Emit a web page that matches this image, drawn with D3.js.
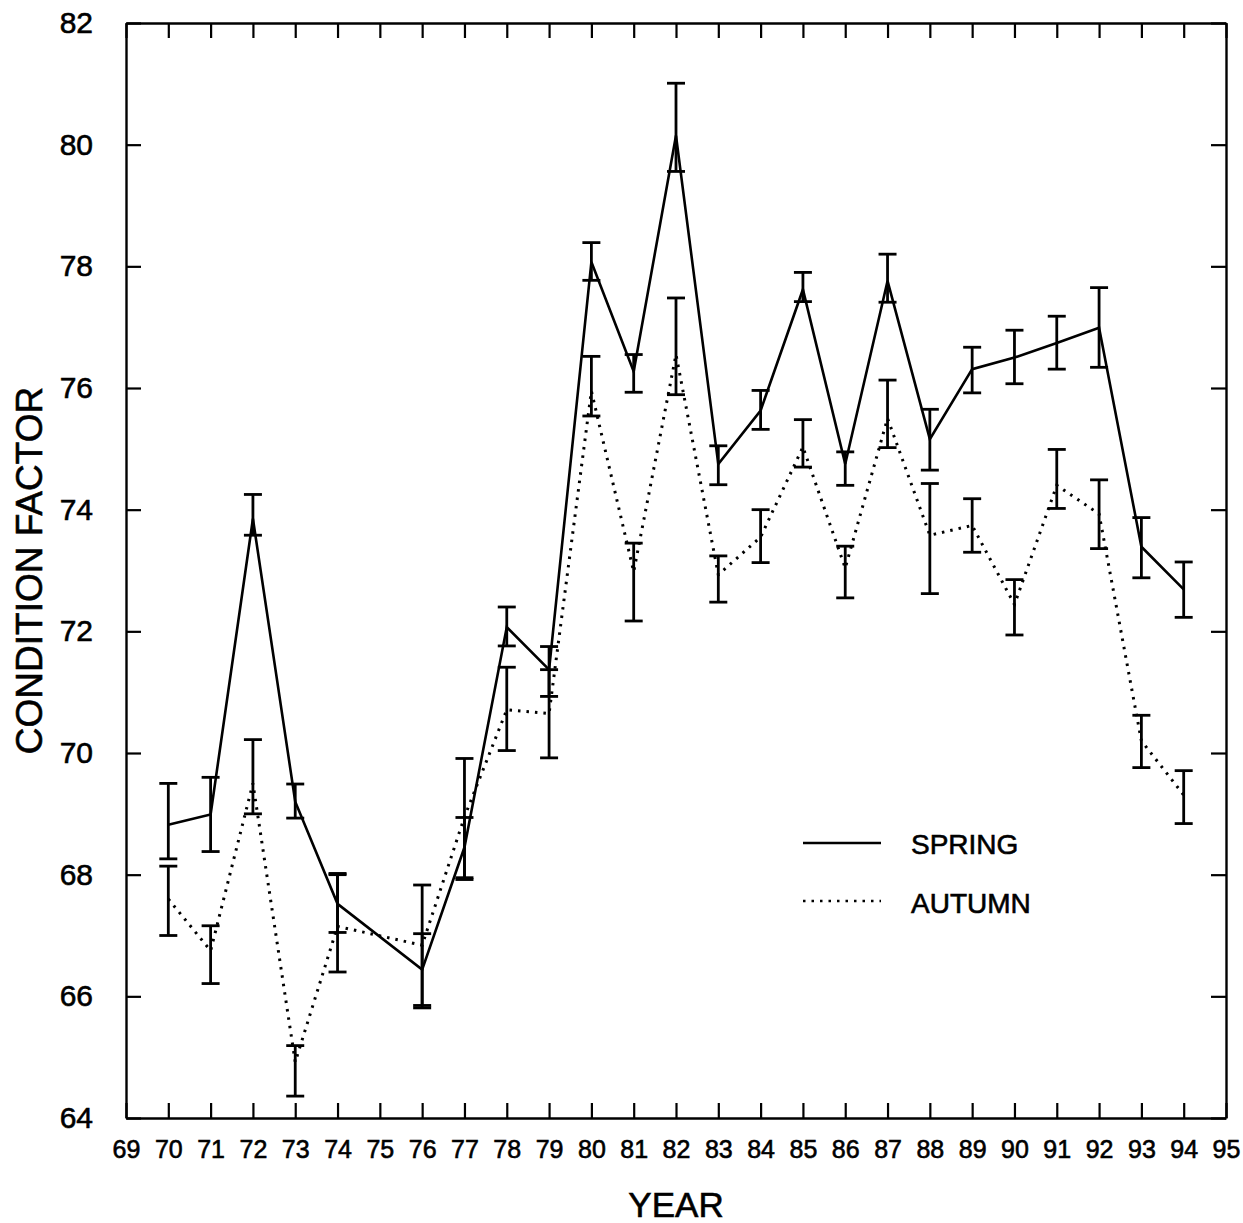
<!DOCTYPE html>
<html>
<head>
<meta charset="utf-8">
<script src="https://cdn.jsdelivr.net/npm/d3@7"></script>
<style>
body { margin: 0; background: #fff; }
text { font-family: "Liberation Sans", Arial, sans-serif; fill: #000; stroke: #000; stroke-width: 0.6px; }
</style>
</head>
<body>
<script>
// values (year 75 has no sample)
var years = [70,71,72,73,74,76,77,78,79,80,81,82,83,84,85,86,87,88,89,90,91,92,93,94];

var spring   = [68.82,68.99,73.85,69.20,67.52,66.44,68.45,72.07,71.37,78.07,76.27,80.15,74.75,75.63,77.62,74.75,77.76,75.16,76.31,76.50,76.74,76.99,73.39,72.69];
var springLo = [68.26,68.38,73.58,68.93,67.05,65.81,67.95,71.76,70.93,77.77,75.93,79.56,74.41,75.32,77.42,74.40,77.41,74.65,75.92,76.07,76.31,76.34,72.88,72.23];
var springHi = [69.50,69.60,74.25,69.49,68.02,67.03,68.94,72.40,71.75,78.39,76.55,81.01,75.05,75.96,77.90,74.95,78.20,75.65,76.67,76.95,77.18,77.65,73.87,73.14];

var autumn   = [67.60,66.75,69.50,64.92,67.15,66.84,68.95,70.71,70.65,75.95,72.98,76.55,72.93,73.55,75.03,73.04,75.50,73.58,73.74,72.44,74.40,73.93,70.20,69.31];
var autumnLo = [67.00,66.21,69.00,64.36,66.40,65.85,67.92,70.04,69.92,75.54,72.17,75.89,72.48,73.13,74.70,72.55,75.02,72.62,73.30,71.94,74.02,73.36,69.76,68.84];
var autumnHi = [68.14,67.16,70.22,65.19,68.00,67.83,69.91,71.41,71.37,76.52,73.45,77.48,73.24,74.00,75.48,73.40,76.13,74.43,74.18,72.85,74.99,74.49,70.62,69.71];

var xTicks = d3.range(69, 96);
var yTicks = d3.range(64, 83, 2);

var w = 1243, h = 1223;
var pLeft = 126, pRight = 1226, pTop = 23, pBottom = 1118;

var svg = d3.select("body").append("svg")
	.attr("width", w)
	.attr("height", h);

var x = d3.scaleLinear().domain([69, 95]).range([pLeft, pRight]);
var y = d3.scaleLinear().domain([64, 82]).range([pBottom, pTop]);

function rows(vals, lo, hi)
{
	return years.map(function(yr, i){ return {year: yr, v: vals[i], lo: lo[i], hi: hi[i]}; });
}
var springData = rows(spring, springLo, springHi);
var autumnData = rows(autumn, autumnLo, autumnHi);

function style_axis(g)
{
	g.select(".domain").attr("stroke", "#000").attr("stroke-width", 2.4);
	g.selectAll(".tick line").attr("stroke", "#000").attr("stroke-width", 2.2);
	g.selectAll("text").attr("fill", "#000").attr("font-family", "Liberation Sans, Arial, sans-serif");
}

// axes, ticks on the inside on all four sides
svg.append("g")
	.attr("transform", "translate(0," + pBottom + ")")
	.call(d3.axisBottom(x).tickValues(xTicks).tickSizeInner(-15).tickSizeOuter(0).tickPadding(22))
	.call(style_axis)
	.selectAll("text").attr("font-size", 25);

svg.append("g")
	.attr("transform", "translate(0," + pTop + ")")
	.call(d3.axisTop(x).tickValues(xTicks).tickSizeInner(-15).tickSizeOuter(0).tickFormat(""))
	.call(style_axis);

svg.append("g")
	.attr("transform", "translate(" + pLeft + ",0)")
	.call(d3.axisLeft(y).tickValues(yTicks).tickSizeInner(-15).tickSizeOuter(0).tickPadding(33))
	.call(style_axis)
	.selectAll("text").attr("font-size", 30);

svg.append("g")
	.attr("transform", "translate(" + pRight + ",0)")
	.call(d3.axisRight(y).tickValues(yTicks).tickSizeInner(-15).tickSizeOuter(0).tickFormat(""))
	.call(style_axis);

// series
var line = d3.line()
	.x(function(d){ return x(d.year); })
	.y(function(d){ return y(d.v); });

function errorbars(data)
{
	var g = svg.append("g").attr("stroke", "#000").attr("stroke-width", 2.8);
	g.selectAll(".v").data(data).enter().append("line")
		.attr("x1", function(d){ return x(d.year); })
		.attr("x2", function(d){ return x(d.year); })
		.attr("y1", function(d){ return y(d.lo); })
		.attr("y2", function(d){ return y(d.hi); });
	g.selectAll(".t").data(data).enter().append("line")
		.attr("x1", function(d){ return x(d.year) - 9; })
		.attr("x2", function(d){ return x(d.year) + 9; })
		.attr("y1", function(d){ return y(d.hi); })
		.attr("y2", function(d){ return y(d.hi); });
	g.selectAll(".b").data(data).enter().append("line")
		.attr("x1", function(d){ return x(d.year) - 9; })
		.attr("x2", function(d){ return x(d.year) + 9; })
		.attr("y1", function(d){ return y(d.lo); })
		.attr("y2", function(d){ return y(d.lo); });
}

errorbars(springData);
errorbars(autumnData);

svg.append("path")
	.datum(autumnData)
	.attr("d", line)
	.attr("fill", "none")
	.attr("stroke", "#000")
	.attr("stroke-width", 3)
	.attr("stroke-dasharray", "2.5,6");

svg.append("path")
	.datum(springData)
	.attr("d", line)
	.attr("fill", "none")
	.attr("stroke", "#000")
	.attr("stroke-width", 2.6);

// legend
svg.append("line")
	.attr("x1", 803).attr("x2", 881).attr("y1", 843).attr("y2", 843)
	.attr("stroke", "#000").attr("stroke-width", 2.4);
svg.append("line")
	.attr("x1", 803).attr("x2", 881).attr("y1", 901).attr("y2", 901)
	.attr("stroke", "#000").attr("stroke-width", 2.6).attr("stroke-dasharray", "2.5,6");
svg.append("text").attr("x", 911).attr("y", 854).attr("font-size", 28).text("SPRING");
svg.append("text").attr("x", 911).attr("y", 913).attr("font-size", 28).text("AUTUMN");

// axis titles
svg.append("text")
	.attr("x", (pLeft + pRight) / 2)
	.attr("y", 1217)
	.attr("text-anchor", "middle")
	.attr("font-size", 35)
	.text("YEAR");

svg.append("text")
	.attr("transform", "translate(42," + ((pTop + pBottom) / 2) + ") rotate(-90)")
	.attr("text-anchor", "middle")
	.attr("font-size", 37)
	.text("CONDITION FACTOR");
</script>
</body>
</html>
